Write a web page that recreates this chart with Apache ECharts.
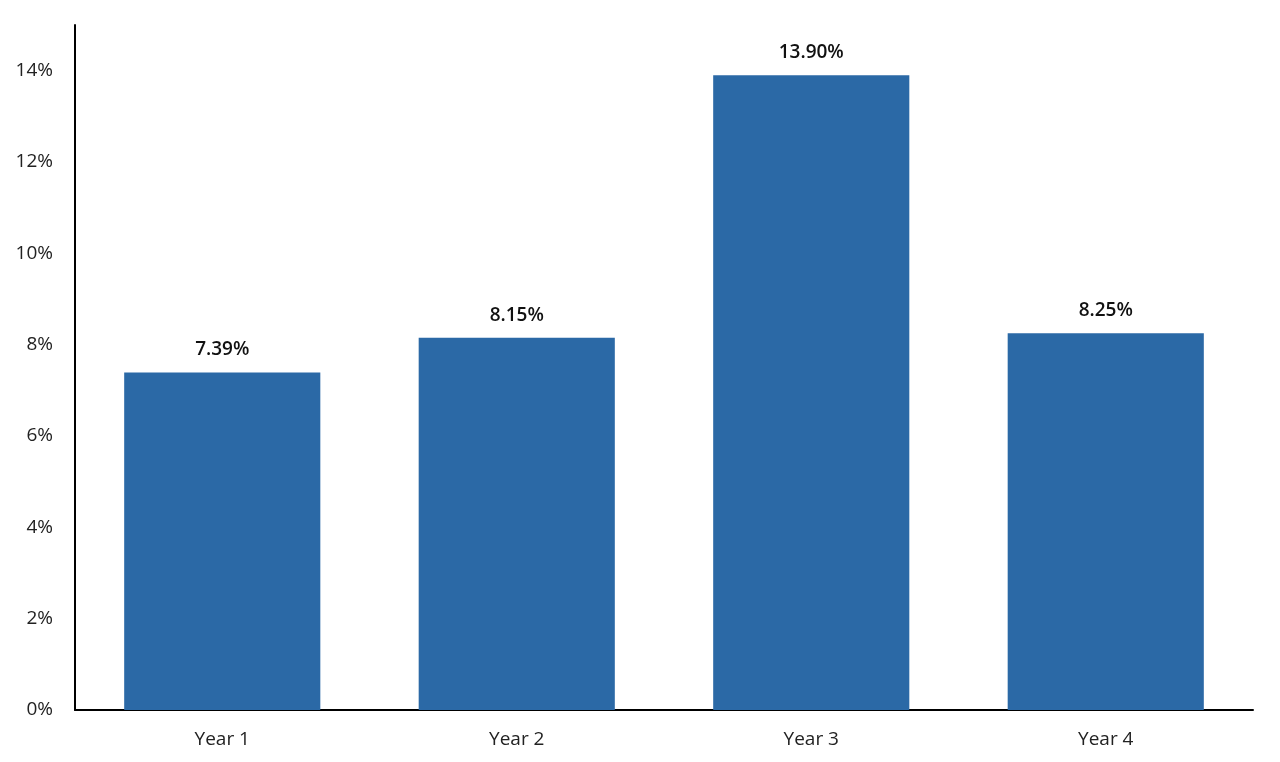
<!DOCTYPE html>
<html><head><meta charset="utf-8">
<script src="https://cdn.jsdelivr.net/npm/echarts@6/dist/echarts.min.js"></script>
<style>html,body{margin:0;padding:0;background:#fff}#c{width:1280px;height:762px}</style>
</head><body><div id="c"></div>
<script>
var categories = ['Year 1', 'Year 2', 'Year 3', 'Year 4'];
var values = [7.39, 8.15, 13.90, 8.25];
var yTicks = [0, 2, 4, 6, 8, 10, 12, 14];

var chart = echarts.init(document.getElementById('c'));
chart.setOption({
  animation: false,
  textStyle: { fontFamily: '"Open Sans", sans-serif' },
  grid: { left: 75, right: 27, top: 25, bottom: 52, containLabel: false },
  xAxis: {
    type: 'category',
    data: categories,
    axisLine: { lineStyle: { color: '#000', width: 2 } },
    axisTick: { show: false },
    axisLabel: { color: '#222', fontSize: 19, margin: 20, fontFamily: '"Open Sans", sans-serif' }
  },
  yAxis: {
    type: 'value',
    min: 0, max: 15, interval: 2,
    axisLine: { show: true, lineStyle: { color: '#000', width: 2 } },
    axisTick: { show: false },
    splitLine: { show: false },
    axisLabel: {
      color: '#222', fontSize: 19, margin: 22, fontFamily: '"Open Sans", sans-serif',
      formatter: function (v) { return yTicks.indexOf(v) >= 0 ? v + '%' : ''; }
    }
  },
  series: [{
    type: 'bar',
    data: values,
    barCategoryGap: '33.4%',
    itemStyle: { color: '#2b69a6' },
    label: {
      show: true, position: 'top', distance: 13,
      color: '#111', fontSize: 19, fontWeight: 600, fontFamily: '"Open Sans", sans-serif',
      formatter: function (p) { return p.value.toFixed(2) + '%'; }
    }
  }]
});
</script></body></html>
